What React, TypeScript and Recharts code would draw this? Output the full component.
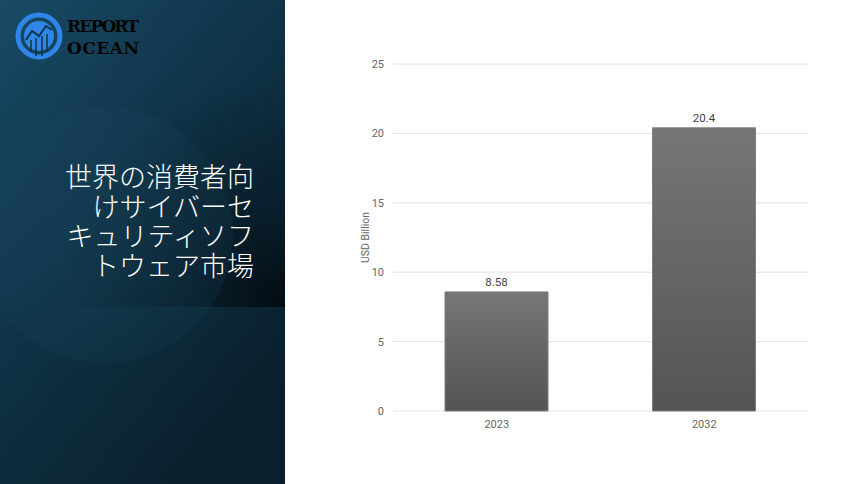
import React from "react";
import { BarChart, Bar, XAxis, YAxis, CartesianGrid, LabelList } from "recharts";

// market size, USD billion
const years = ["2023", "2032"];
const marketSize = [8.58, 20.4];
const yTicks = [0, 5, 10, 15, 20, 25];
const titleLines = ["世界の消費者向", "けサイバーセ", "キュリティソフ", "トウェア市場"];

const data = years.map((year, i) => ({ year, value: marketSize[i] }));

const font = "Roboto, 'Noto Sans', sans-serif";

function SidePanel() {
  return (
    <div style={{ position: "absolute", left: 0, top: 0, width: 285, height: 484, overflow: "hidden" }}>
      <svg width={285} height={484} style={{ position: "absolute", left: 0, top: 0 }}>
        <defs>
          <linearGradient id="panelBg" x1="0" y1="0" x2="0.7" y2="1">
            <stop offset="0%" stopColor="#184a66" />
            <stop offset="50%" stopColor="#0f3246" />
            <stop offset="100%" stopColor="#0a1f2b" />
          </linearGradient>
          <radialGradient id="darkBox" gradientUnits="userSpaceOnUse" cx={285} cy={307} r={230}>
            <stop offset="0%" stopColor="#020a10" stopOpacity={0.95} />
            <stop offset="45%" stopColor="#06151f" stopOpacity={0.5} />
            <stop offset="100%" stopColor="#06151f" stopOpacity={0} />
          </radialGradient>
          <radialGradient id="glow" cx="0.5" cy="0.5" r="0.5">
            <stop offset="0%" stopColor="#1b4b64" stopOpacity={0.3} />
            <stop offset="100%" stopColor="#1b4b64" stopOpacity={0.15} />
          </radialGradient>
        </defs>
        <rect x={0} y={0} width={285} height={484} fill="url(#panelBg)" />
        <rect x={0} y={0} width={285} height={307} fill="url(#darkBox)" />
        <circle cx={105} cy={235} r={128} fill="url(#glow)" />
        {/* logo */}
        <circle cx={39} cy={36} r={21} fill="none" stroke="#2f86e8" strokeWidth={5} />
        <circle cx={39} cy={36} r={15} fill="#2f86e8" />
        <path d="M26 40 L32 31 L39 36 L46 26 L52 30" stroke="#0f3347" strokeWidth={2} fill="none" />
        <path d="M31 40 V52 M36 38 V56 M42 36 V56 M47 34 V52" stroke="#0f3347" strokeWidth={1.5} />
        <text x={67} y={32} fontFamily="'DejaVu Serif', serif" fontWeight="bold" fontSize={17} fill="#050505" textLength={72}>REPORT</text>
        <text x={67} y={54} fontFamily="'DejaVu Serif', serif" fontWeight="bold" fontSize={17} fill="#050505" textLength={72}>OCEAN</text>
      </svg>
      <div
        style={{
          position: "absolute",
          left: 0,
          top: 164,
          width: 254,
          textAlign: "right",
          color: "#ffffff",
          fontFamily: "'Liberation Sans', 'Noto Sans CJK JP', sans-serif",
          fontWeight: 300,
          fontSize: 27,
          lineHeight: "29.5px",
        }}
      >
        {titleLines.map((line) => (
          <div key={line}>{line}</div>
        ))}
      </div>
    </div>
  );
}

export default function App() {
  return (
    <div style={{ position: "fixed", left: 0, top: 0, width: 860, height: 484, background: "#ffffff", fontFamily: font }}>
      <SidePanel />
      <div style={{ position: "absolute", left: 285, top: 0 }}>
        <BarChart width={575} height={484} data={data} margin={{ top: 64, right: 52, bottom: 43, left: 0 }}>
          <defs>
            <linearGradient id="barFill" x1="0" y1="0" x2="0" y2="1">
              <stop offset="0%" stopColor="#767676" />
              <stop offset="100%" stopColor="#545454" />
            </linearGradient>
          </defs>
          <CartesianGrid vertical={false} stroke="#e2e2e2" />
          <XAxis
            dataKey="year"
            height={30}
            axisLine={false}
            tickLine={false}
            tickMargin={3}
            tick={{ fontSize: 11, fill: "#666666", fontFamily: font }}
          />
          <YAxis
            width={108}
            domain={[0, 25]}
            ticks={yTicks}
            axisLine={false}
            tickLine={false}
            tickMargin={3}
            tick={{ fontSize: 11, fill: "#666666", fontFamily: font }}
            label={{
              value: "USD Billion",
              angle: -90,
              position: "insideLeft",
              offset: 80,
              style: { fontSize: 10.5, fill: "#666666", fontFamily: font, textAnchor: "middle" },
            }}
          />
          <Bar dataKey="value" barSize={103} fill="url(#barFill)" stroke="#7c7c7c" strokeWidth={1} isAnimationActive={false}>
            <LabelList dataKey="value" position="top" offset={6} style={{ fontSize: 11.5, fill: "#444444", fontFamily: font }} />
          </Bar>
        </BarChart>
      </div>
    </div>
  );
}
